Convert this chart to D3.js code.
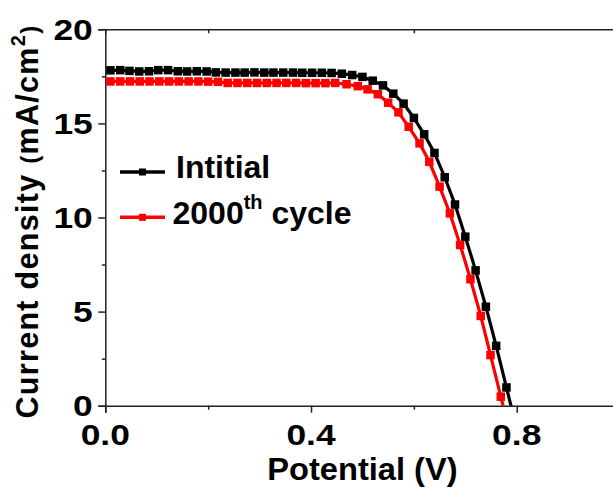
<!DOCTYPE html>
<html>
<head>
<meta charset="utf-8">
<script src="https://cdn.jsdelivr.net/npm/d3@7"></script>
<style>
  html, body { margin: 0; padding: 0; background: #fff; overflow: hidden; }
  svg { display: block; }
  text { font-family: "Liberation Sans", Arial, sans-serif; font-weight: bold; fill: #000; }
</style>
</head>
<body>
<div id="chart"></div>
<script>
// J-V 曲線數據
const initialPotential = [0.010, 0.029, 0.047, 0.066, 0.085, 0.103, 0.122, 0.141, 0.159, 0.178, 0.197, 0.215,
    0.234, 0.253, 0.271, 0.290, 0.309, 0.327, 0.346, 0.365, 0.383, 0.402, 0.421,
    0.44, 0.46, 0.48, 0.50, 0.52, 0.54, 0.56, 0.58, 0.60, 0.62, 0.64, 0.66, 0.68, 0.70, 0.72, 0.74, 0.76, 0.78, 0.80];
const initialCurrent = [17.82, 17.83, 17.79, 17.76, 17.77, 17.83, 17.83, 17.77, 17.76, 17.77, 17.76, 17.71,
    17.70, 17.70, 17.70, 17.71, 17.70, 17.70, 17.70, 17.70, 17.69, 17.69, 17.69,
    17.68, 17.64, 17.57, 17.47, 17.27, 17.02, 16.58, 16.05, 15.29, 14.42, 13.43, 12.14, 10.69, 8.98, 7.19, 5.26, 3.18, 0.97, -1.25];

const cyclePotential = [0.010, 0.029, 0.048, 0.067, 0.086, 0.105, 0.124, 0.143, 0.162, 0.181, 0.200, 0.219,
    0.238, 0.257, 0.276, 0.295, 0.314, 0.333, 0.352, 0.371, 0.390, 0.409, 0.428,
    0.447, 0.469, 0.491, 0.510, 0.530, 0.550, 0.570, 0.590, 0.611, 0.630, 0.650, 0.670, 0.690, 0.710, 0.730, 0.749, 0.769, 0.789];
const cycleCurrent = [17.23, 17.23, 17.23, 17.23, 17.23, 17.23, 17.23, 17.23, 17.23, 17.23, 17.22, 17.21,
    17.15, 17.15, 17.15, 17.15, 17.15, 17.15, 17.15, 17.15, 17.14, 17.14, 17.14,
    17.15, 17.08, 16.98, 16.81, 16.55, 16.10, 15.59, 14.82, 13.94, 12.96, 11.64, 10.22, 8.54, 6.72, 4.77, 2.69, 0.48, -1.70];

const seriesNames = ["Intitial", "2000"];
const seriesColors = ["#000000", "#ff0000"];

const xTicks = [0, 0.4, 0.8];
const xMinorTicks = [0.2, 0.6];
const yTicks = [0, 5, 10, 15, 20];
const yMinorTicks = [2.5, 7.5, 12.5, 17.5];

// 設置 SVG 的寬與高
const width = 613;
const height = 491;
const margin = {top: 29.3, left: 105.3, bottom: 85.3};
const innerWidth = 514.3;   // 0 ~ 1.0 V, 右側被裁掉
const innerHeight = height - margin.top - margin.bottom;

const svg = d3.select("#chart").append("svg")
    .attr("width", width)
    .attr("height", height);

// 設定座標比例 (直接用整張 SVG 的座標)
const xScale = d3.scaleLinear().domain([0, 1]).range([margin.left, margin.left + innerWidth]);
const yScale = d3.scaleLinear().domain([0, 20]).range([margin.top + innerHeight, margin.top]);
const x0 = xScale.range()[0], yBottom = yScale.range()[0];

svg.append("clipPath").attr("id", "plot-clip")
    .append("rect")
    .attr("x", x0).attr("y", margin.top)
    .attr("width", innerWidth).attr("height", innerHeight);

// 軸
const axisColor = "#222";
const xAxis = svg.append("g")
    .attr("transform", `translate(0,${yBottom})`)
    .call(d3.axisBottom(xScale).tickValues(xTicks).tickSize(7).tickFormat(""));
const xAxisMinor = svg.append("g")
    .attr("transform", `translate(0,${yBottom})`)
    .call(d3.axisBottom(xScale).tickValues(xMinorTicks).tickSize(4).tickFormat(""));
const xAxisTop = svg.append("g")
    .attr("transform", `translate(0,${margin.top})`)
    .call(d3.axisBottom(xScale).tickValues(xMinorTicks).tickSize(4).tickFormat(""));
const yAxis = svg.append("g")
    .attr("transform", `translate(${x0},0)`)
    .call(d3.axisLeft(yScale).tickValues(yTicks).tickSize(7).tickFormat(""));
const yAxisMinor = svg.append("g")
    .attr("transform", `translate(${x0},0)`)
    .call(d3.axisLeft(yScale).tickValues(yMinorTicks).tickSize(3.5).tickFormat(""));

[xAxis, xAxisMinor, xAxisTop, yAxis, yAxisMinor].forEach(a => {
    a.selectAll("path").attr("stroke", axisColor).attr("stroke-width", 1.5);
    a.selectAll("line").attr("stroke", axisColor).attr("stroke-width", 1.5);
});
xAxisMinor.select("path").remove();
yAxisMinor.select("path").remove();

// 字比較寬: 用 textLength 橫向拉長
function widen(sel, k) {
    sel.each(function() {
        const len = this.getComputedTextLength();
        d3.select(this).attr("textLength", len * k).attr("lengthAdjust", "spacingAndGlyphs");
    });
}

// 刻度標籤
yTicks.forEach(d => {
    svg.append("text")
        .attr("x", x0 - 12.5)
        .attr("y", yScale(d) + 10.5)
        .attr("text-anchor", "end")
        .style("font-size", "30px")
        .text(d)
        .call(widen, 1.18);
});
xTicks.forEach(d => {
    svg.append("text")
        .attr("x", xScale(d))
        .attr("y", yBottom + 39.5)
        .attr("text-anchor", "middle")
        .style("font-size", "30px")
        .text(d.toFixed(1))
        .call(widen, 1.18);
});

// 軸標題
svg.append("text")
    .attr("x", xScale(0.5))
    .attr("y", yBottom + 74.5)
    .attr("text-anchor", "middle")
    .style("font-size", "30.5px")
    .text("Potential (V)")
    .call(widen, 1.07);

// Y 軸標題: 旋轉 -90 度
const yMid = (margin.top + yBottom) / 2 + 4;
const yTitle = svg.append("text")
    .attr("x", 0).attr("y", 0)
    .attr("transform", `translate(38.3,${yMid}) rotate(-90)`)
    .attr("text-anchor", "middle")
    .style("font-size", "30.5px")
    .style("letter-spacing", "1.3px");
yTitle.append("tspan").text("Current density ");
yTitle.append("tspan").style("font-size", "24px").text("(");
yTitle.append("tspan").text("mA/cm");
yTitle.append("tspan").style("font-size", "20px").attr("dy", -13).text("2");
yTitle.append("tspan").style("font-size", "24px").attr("dy", 13).text(")");

// 繪製曲線
const series = [
    {x: initialPotential, y: initialCurrent},
    {x: cyclePotential, y: cycleCurrent}
];
const line = d3.line()
    .x(d => xScale(d[0]))
    .y(d => yScale(d[1]));

const plot = svg.append("g").attr("clip-path", "url(#plot-clip)");
const markerSize = 8.5;

series.forEach((s, i) => {
    const pts = s.x.map((v, k) => [v, s.y[k]]);
    plot.append("path")
        .datum(pts)
        .attr("d", line)
        .attr("fill", "none")
        .attr("stroke", seriesColors[i])
        .attr("stroke-width", 3.2);
    plot.selectAll(null)
        .data(pts)
        .enter().append("rect")
        .attr("x", d => xScale(d[0]) - markerSize / 2)
        .attr("y", d => yScale(d[1]) - markerSize / 2)
        .attr("width", markerSize)
        .attr("height", markerSize)
        .attr("fill", seriesColors[i]);
});

// 圖例
const legendRows = [172, 217.3];
seriesNames.forEach((name, i) => {
    const ly = legendRows[i];
    svg.append("line")
        .attr("x1", 120).attr("x2", 165)
        .attr("y1", ly).attr("y2", ly)
        .attr("stroke", seriesColors[i])
        .attr("stroke-width", 3.5);
    svg.append("rect")
        .attr("x", 142.5 - 3.5).attr("y", ly - 3.5)
        .attr("width", 7).attr("height", 7)
        .attr("fill", seriesColors[i]);
    const t = svg.append("text")
        .attr("x", i === 0 ? 176 : 172.5)
        .attr("y", ly + 6.3)
        .style("font-size", "32px");
    if (i === 0) {
        t.text(name);
    } else {
        t.append("tspan").text(name);
        t.append("tspan").style("font-size", "20px").attr("dy", -15).text("th");
        t.append("tspan").attr("dy", 15).text(" cycle");
    }
});
</script>
</body>
</html>
